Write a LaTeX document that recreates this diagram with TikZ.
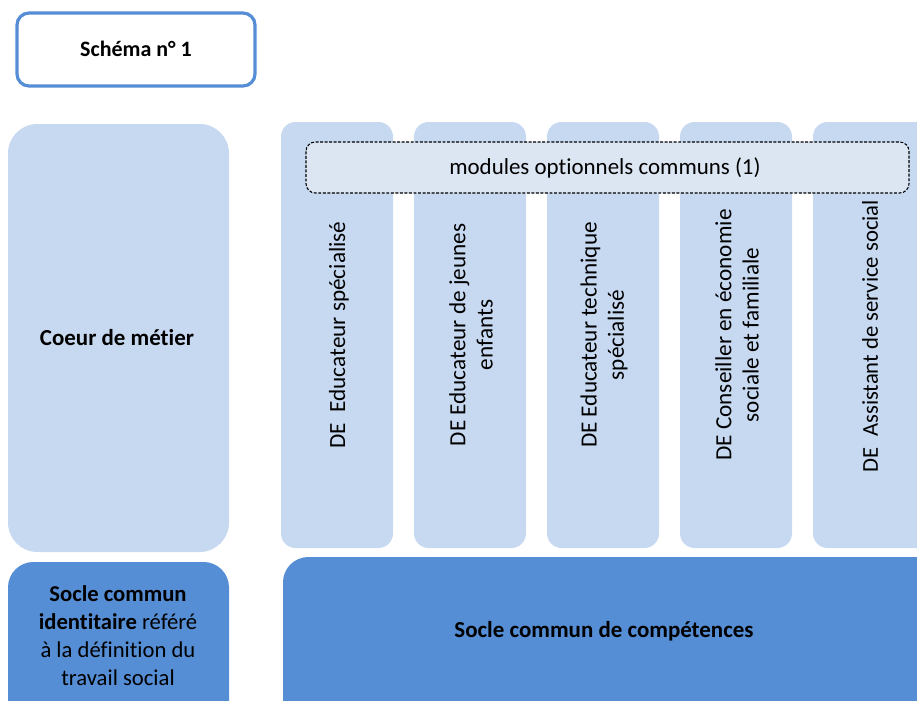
\documentclass[tikz,border=0pt]{standalone}
\usepackage{fontspec}
\setmainfont{Carlito}[Ligatures=NoCommon]
\definecolor{lightcol}{HTML}{C6D9F1}
\definecolor{dashfill}{HTML}{DCE6F2}
\definecolor{darkcol}{HTML}{558ED5}
\begin{document}
\begin{tikzpicture}[x=0.75pt,y=-0.75pt,
  txt/.style={font=\fontsize{17.2}{21}\selectfont, text=black, align=center},
  col/.style={fill=lightcol, draw=none, rounded corners=11pt},
  vtxt/.style={txt, rotate=90, font=\fontsize{17.4}{20.5}\selectfont}]
\useasboundingbox (0,0) rectangle (917,700);
\clip (0,0) rectangle (917,700);
% title box
\draw[draw=darkcol, line width=2.4pt, fill=white, rounded corners=9pt] (17,13) rectangle (255,86);
\node[txt, font=\fontsize{16.5}{19}\selectfont\bfseries] (title) at (136,49) {Schéma n° 1};
% coeur de metier
\fill[lightcol, rounded corners=22pt] (8,124) rectangle (229,552);
\node[txt, font=\fontsize{17.2}{21}\selectfont\bfseries] (coeur) at (117,338) {Coeur de métier};
% columns
\fill[col] (281,122) rectangle (393,548);
\fill[col] (414,122) rectangle (526,548);
\fill[col] (547,122) rectangle (659,548);
\fill[col] (680,122) rectangle (792,548);
\fill[col] (813,122) rectangle (940,548);
% dashed modules box
\draw[dash pattern=on 2.2pt off 1.2pt, fill=dashfill, line width=0.8pt, rounded corners=7pt] (306,142) rectangle (909,193);
\node[txt] (mod) at (605,168) {modules optionnels communs (1)};
% vertical texts
\node[vtxt] (c1) at (339,335) {DE\ \ Educateur spécialisé};
\node[vtxt] (c2) at (471,335) {DE Educateur de jeunes\\enfants};
\node[vtxt] (c3) at (604,335) {DE Educateur technique\\spécialisé};
\node[vtxt] (c4) at (737,335) {DE Conseiller en économie\\sociale et familiale};
\node[vtxt, font=\fontsize{17}{20.5}\selectfont] (c5) at (870,336) {DE\ \ Assistant de service social};
% bottom boxes
\fill[darkcol, rounded corners=19pt] (8,562) rectangle (229,730);
\node[txt, font=\fontsize{17}{21}\selectfont] (socle1) at (118,636) {\textbf{Socle commun}\\\textbf{identitaire} référé\\à la définition du\\travail social};
\fill[darkcol, rounded corners=19pt] (283,557) rectangle (960,730);
\node[txt, font=\fontsize{17.2}{21}\selectfont\bfseries] (socle2) at (604,631) {Socle commun de compétences};
\end{tikzpicture}
\end{document}
